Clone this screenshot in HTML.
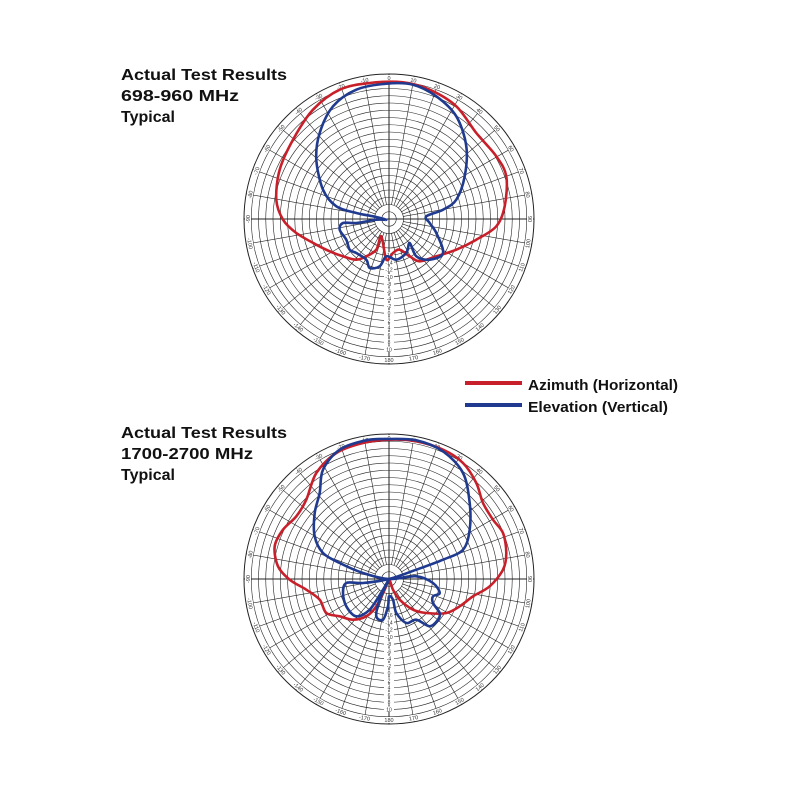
<!DOCTYPE html>
<html><head><style>body{margin:0;background:#fff}svg{display:block}</style></head>
<body>
<svg id="s" width="800" height="800" xmlns="http://www.w3.org/2000/svg" font-family="Liberation Sans, sans-serif">
<rect width="800" height="800" fill="#fff"/>
<g font-weight="bold" font-size="16" fill="#111">
<text x="121" y="80" textLength="166" lengthAdjust="spacingAndGlyphs">Actual Test Results</text>
<text x="121" y="101" textLength="118" lengthAdjust="spacingAndGlyphs">698-960 MHz</text>
<text x="121" y="122">Typical</text>
<text x="121" y="438" textLength="166" lengthAdjust="spacingAndGlyphs">Actual Test Results</text>
<text x="121" y="459" textLength="132" lengthAdjust="spacingAndGlyphs">1700-2700 MHz</text>
<text x="121" y="480">Typical</text>
<text x="528" y="390" font-size="15" textLength="150" lengthAdjust="spacingAndGlyphs">Azimuth (Horizontal)</text>
<text x="528" y="412" font-size="15" textLength="140" lengthAdjust="spacingAndGlyphs">Elevation (Vertical)</text>
</g>
<line x1="465" y1="383" x2="522" y2="383" stroke="#c8202a" stroke-width="4"/>
<line x1="465" y1="405" x2="522" y2="405" stroke="#1f3a8f" stroke-width="4"/>
<g id="plots"></g>
</svg>
<script>
var NS="http://www.w3.org/2000/svg",g=document.getElementById('plots');
function el(t,a,txt){var e=document.createElementNS(NS,t);for(var k in a)e.setAttribute(k,a[k]);if(txt!=null)e.textContent=txt;g.appendChild(e);return e;}
function grid(cx,cy){var R=145;
 for(var i=1;i<=20;i++)el('circle',{cx:cx,cy:cy,r:R*i/20,fill:'none',stroke:'#222','stroke-width':i==20?1:0.6});
 for(var a=0;a<360;a+=10){var t=a*Math.PI/180,r0=(a%90==0)?0:R*2/20;
  el('line',{x1:cx+r0*Math.sin(t),y1:cy-r0*Math.cos(t),x2:cx+R*Math.sin(t),y2:cy-R*Math.cos(t),stroke:'#222','stroke-width':(a%90==0)?1:0.6});
  var rr=R-4,x=cx+rr*Math.sin(t),y=cy-rr*Math.cos(t);
  var txt=(a==180)?'180':(a>180?(''+(a-360)):(''+a));
  el('rect',{x:x-5,y:y-3,width:10,height:6,fill:'#fff',transform:'rotate('+(a>90&&a<270?a-180:a)+' '+x+' '+y+')'});
  el('text',{x:x,y:y+2,'font-size':5.5,'text-anchor':'middle',fill:'#333',transform:'rotate('+(a>90&&a<270?a-180:a)+' '+x+' '+y+')'},txt);}
 var v=-16;for(var i=5;i<=18;i++){el('rect',{x:cx-5,y:cy+R*i/20-3,width:10,height:5,fill:'#fff'});el('text',{x:cx,y:cy+R*i/20+1.8,'font-size':5,'text-anchor':'middle',fill:'#333'},''+v);v+=2;}
}
function curve(cx,cy,pts,col){var P=pts.map(function(p){return [cx+(p[0]-478)/3,cy+(p[1]-478)/3];}),n=P.length;
 var d='M'+P[0][0].toFixed(1)+' '+P[0][1].toFixed(1);
 for(var i=0;i<n;i++){var p0=P[(i-1+n)%n],p1=P[i],p2=P[(i+1)%n],p3=P[(i+2)%n],k=0.16;
  d+='C'+(p1[0]+(p2[0]-p0[0])*k).toFixed(1)+' '+(p1[1]+(p2[1]-p0[1])*k).toFixed(1)+' '+(p2[0]-(p3[0]-p1[0])*k).toFixed(1)+' '+(p2[1]-(p3[1]-p1[1])*k).toFixed(1)+' '+p2[0].toFixed(1)+' '+p2[1].toFixed(1);}
 el('path',{d:d,fill:'none',stroke:col,'stroke-width':2.6,'stroke-linejoin':'round'});}
var R1=[[140,420],[150,330],[190,240],[250,150],[330,90],[420,70],[520,68],[600,90],[680,140],[740,220],[800,290],[830,350],[825,440],[800,500],[740,540],[680,570],[620,590],[570,605],[540,590],[510,570],[490,580],[470,600],[455,530],[440,570],[410,590],[380,600],[340,590],[300,575],[260,555],[200,520],[160,480]];
var B1=[[470,480],[430,470],[380,460],[320,440],[280,390],[260,300],[270,220],[310,140],[380,90],[470,72],[550,75],[620,110],[680,170],[710,260],[705,350],[680,420],[640,450],[590,470],[600,490],[620,520],[640,580],[600,600],[560,590],[540,550],[530,580],[500,600],[470,590],[450,620],[420,625],[410,600],[380,580],[360,570],[350,540],[330,510],[340,490],[380,490],[440,480]];
var R2=[[478,480],[465,510],[440,560],[410,590],[370,600],[330,590],[290,580],[270,540],[230,510],[180,480],[145,440],[135,380],[160,330],[200,290],[230,240],[260,160],[320,100],[400,70],[480,60],[560,65],[640,90],[700,130],[740,190],[760,250],[790,300],[820,340],[830,400],[820,450],[780,500],[730,530],[690,560],[650,580],[590,580],[550,570],[510,540],[490,510]];
var B2=[[478,478],[400,460],[330,430],[280,400],[255,350],[255,280],[270,220],[280,150],[330,90],[410,62],[480,58],[560,62],[640,95],[700,160],[720,250],[720,330],[700,390],[640,420],[560,450],[478,478],[400,490],[350,490],[340,520],[350,560],[380,590],[420,570],[460,510],[478,478],[450,540],[440,590],[460,600],[475,560],[478,530],[490,540],[500,580],[530,610],[560,600],[600,620],[625,600],[630,580],[610,550],[610,530],[630,520],[610,490],[560,470]];
grid(389,219);curve(389,219,R1,'#c8202a');curve(389,219,B1,'#1f3a8f');
grid(389,579);curve(389,579,R2,'#c8202a');curve(389,579,B2,'#1f3a8f');
</script>
</body></html>
